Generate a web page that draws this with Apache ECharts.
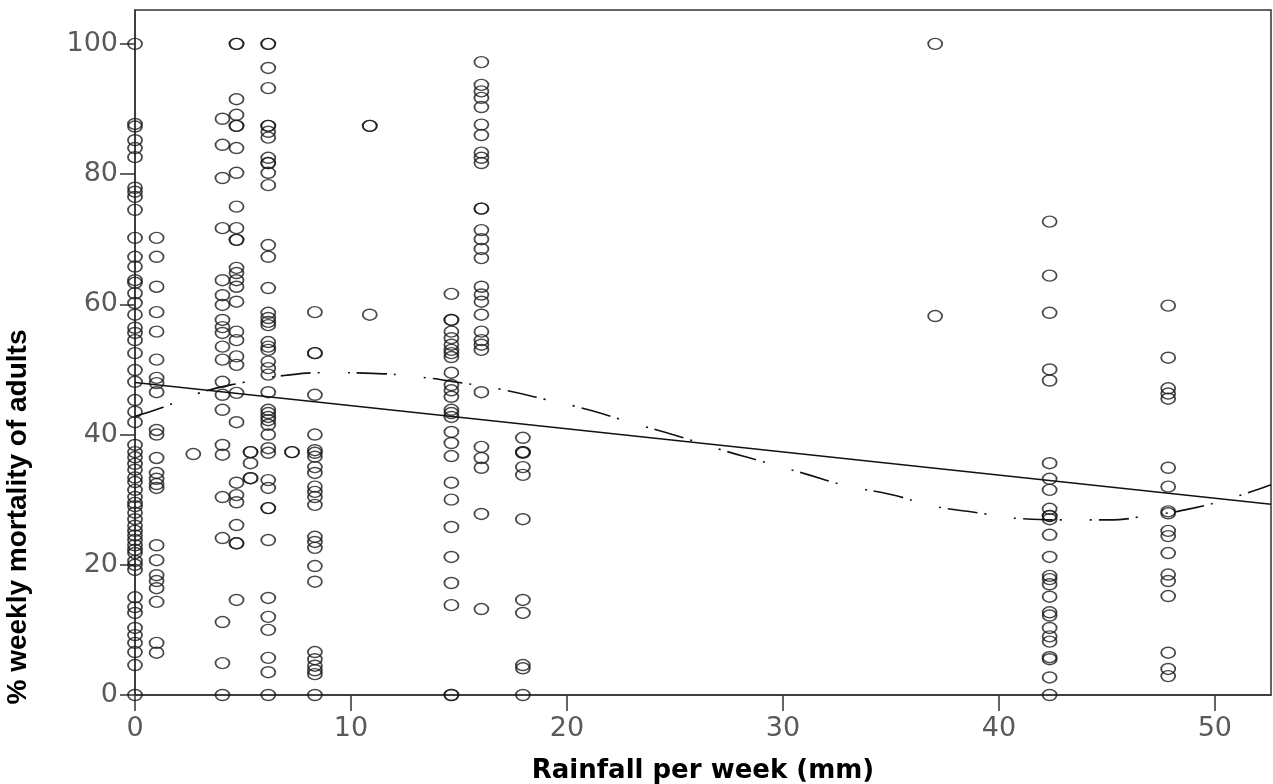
<!DOCTYPE html>
<html>
<head>
<meta charset="utf-8">
<script src="https://cdn.jsdelivr.net/npm/echarts@6/dist/echarts.min.js"></script>
<style>
html,body{margin:0;padding:0;background:#fff;}
#chart{width:1273px;height:784px;}
</style>
</head>
<body>
<div id="chart"></div>
<script>
// Rainfall columns (mm per week)
const rainfall = [0, 1.0, 2.7, 4.05, 4.7, 5.35, 6.17, 7.27, 8.33, 10.87, 14.65, 16.04, 17.96, 37.05, 42.35, 47.84];
// % weekly mortality of adults for each rainfall column
const mortality = [
  [100, 87.7, 87.3, 85.2, 84.0, 82.6, 77.9, 77.3, 76.5, 74.5, 70.2, 67.3, 65.8, 63.7, 63.3, 61.7, 60.2, 58.4, 56.4, 55.6, 54.5, 52.5, 49.9, 48.1, 45.3, 43.5, 41.9, 38.4, 37.3, 36.5, 35.5, 34.6, 33.4, 32.7, 31.5, 30.4, 29.5, 29.0, 28.0, 27.0, 26.0, 25.2, 24.5, 23.8, 23.0, 22.3, 21.8, 20.6, 20.0, 19.2, 15.0, 13.5, 12.6, 10.3, 9.2, 8.0, 6.6, 4.6, 0],
  [70.2, 67.3, 62.7, 58.8, 55.8, 51.5, 48.7, 47.9, 46.5, 40.7, 40.0, 36.4, 34.1, 33.2, 32.4, 31.8, 23.0, 20.7, 18.4, 17.5, 16.4, 14.3, 8.0, 6.5],
  [37.0],
  [88.5, 84.5, 79.4, 71.7, 63.7, 61.4, 59.9, 57.6, 56.5, 55.6, 53.5, 51.5, 48.1, 46.1, 43.8, 38.4, 36.9, 30.4, 24.1, 11.2, 4.9, 0],
  [100, 100, 91.5, 89.1, 87.4, 87.4, 84.0, 80.2, 75.0, 71.7, 69.9, 69.9, 65.6, 64.8, 63.7, 62.7, 60.4, 55.8, 54.5, 52.0, 50.7, 46.4, 41.9, 32.6, 30.7, 29.6, 26.1, 23.3, 23.3, 14.6],
  [37.3, 37.3, 35.6, 33.3, 33.3],
  [100, 100, 96.3, 93.2, 87.4, 87.4, 86.5, 85.6, 82.5, 81.7, 81.7, 80.2, 78.3, 69.1, 67.3, 62.5, 58.7, 57.9, 57.3, 56.8, 54.2, 53.5, 53.0, 51.2, 50.2, 49.2, 46.5, 43.8, 43.3, 42.7, 42.2, 41.5, 40.0, 37.9, 37.2, 33.0, 31.8, 28.7, 28.7, 23.8, 14.9, 12.0, 10.0, 5.7, 3.5, 0],
  [37.3, 37.3],
  [58.8, 52.5, 52.5, 46.1, 40.0, 37.6, 37.2, 36.6, 35.0, 34.1, 32.0, 31.2, 30.4, 29.2, 24.3, 23.5, 22.6, 19.8, 17.4, 6.6, 5.5, 4.5, 3.8, 3.2, 0],
  [87.4, 87.4, 58.4],
  [61.6, 57.6, 57.6, 55.8, 54.8, 53.8, 53.0, 52.5, 51.9, 49.5, 47.6, 46.8, 45.8, 43.8, 43.3, 42.7, 40.4, 38.7, 36.7, 32.6, 30.0, 25.8, 21.2, 17.2, 13.8, 0, 0],
  [97.2, 93.7, 92.7, 91.7, 90.3, 87.6, 86.0, 83.3, 82.5, 81.7, 74.7, 74.7, 71.4, 70.0, 68.5, 67.1, 62.7, 61.5, 60.4, 58.4, 55.8, 54.5, 53.8, 53.0, 46.5, 38.1, 36.4, 34.9, 27.8, 13.2],
  [39.5, 37.3, 37.3, 37.2, 35.0, 33.8, 27.0, 14.6, 12.6, 4.6, 4.1, 0],
  [100, 58.2],
  [72.7, 64.4, 58.7, 50.0, 48.3, 35.6, 33.2, 31.5, 28.6, 27.5, 27.5, 27.0, 24.6, 21.2, 18.3, 17.8, 17.0, 15.1, 12.7, 12.2, 10.3, 9.0, 8.2, 5.8, 5.5, 2.7, 0],
  [59.8, 51.8, 47.1, 46.3, 45.5, 34.9, 32.0, 28.2, 27.9, 25.2, 24.4, 21.8, 18.5, 17.5, 15.2, 6.5, 4.0, 2.9]
];
// Linear fit line (end points)
const linearX = [0, 52.6];
const linearY = [48.0, 29.3];
// Cubic fit curve
const cubicX = [0, 1.3, 3, 5, 7, 9, 11, 13, 15, 17, 19, 21, 23, 25, 27, 29, 31, 33, 35, 37, 39, 41, 43, 45, 47, 49, 51, 52.6];
const cubicY = [42.8, 44.2, 46.4, 48.0, 49.1, 49.5, 49.4, 48.9, 48.0, 46.9, 45.4, 43.8, 41.8, 39.9, 37.8, 35.9, 34.0, 32.1, 30.8, 29.0, 28.0, 27.1, 26.9, 26.9, 27.6, 28.7, 30.5, 32.3];
// Tick labels
const xTicks = [0, 10, 20, 30, 40, 50];
const yTicks = [0, 20, 40, 60, 80, 100];

const scatterData = [];
rainfall.forEach((r, i) => mortality[i].forEach(m => scatterData.push([r, m])));
const linData = linearX.map((x, i) => [x, linearY[i]]);
const cubData = cubicX.map((x, i) => [x, cubicY[i]]);

const labelFont = {fontFamily: "'DejaVu Sans', sans-serif", fontSize: 27, color: '#5a5a5a'};
const chart = echarts.init(document.getElementById('chart'), null, {renderer: 'canvas'});
chart.setOption({
  animation: false,
  backgroundColor: '#fff',
  grid: {left: 135, right: 2, top: 10, bottom: 89, show: true, borderColor: '#333', borderWidth: 1.5, backgroundColor: 'transparent', outerBoundsMode: 'none', containLabel: false},
  xAxis: {
    type: 'value', min: 0, max: 52.6, interval: 10,
    name: 'Rainfall per week (mm)', nameLocation: 'middle', nameGap: 63,
    nameTextStyle: {fontFamily: "'DejaVu Sans', sans-serif", fontWeight: 'bold', fontSize: 26, color: '#000'},
    axisLine: {show: true, onZero: false, lineStyle: {color: '#333', width: 1.5}},
    axisTick: {show: true, length: 16, lineStyle: {color: '#333', width: 1.5}, customValues: xTicks},
    axisLabel: Object.assign({margin: 20, customValues: xTicks, formatter: v => String(v)}, labelFont),
    splitLine: {show: false}
  },
  yAxis: {
    type: 'value', min: 0, max: 105.2, interval: 20,
    axisLine: {show: true, onZero: false, lineStyle: {color: '#333', width: 1.5}},
    axisTick: {show: true, length: 15, lineStyle: {color: '#333', width: 1.5}, customValues: yTicks},
    axisLabel: Object.assign({margin: 17, customValues: yTicks, formatter: v => String(v)}, labelFont),
    splitLine: {show: false}
  },
  graphic: [{
    type: 'text', x: 18, y: 517, rotation: Math.PI / 2,
    style: {text: '% weekly mortality of adults', fontFamily: "'Liberation Sans', Arial, sans-serif", fontWeight: 'bold', fontSize: 28, fill: '#000', align: 'center', verticalAlign: 'middle'}
  }],
  series: [
    {
      type: 'scatter', data: scatterData, symbol: 'circle', symbolSize: [14, 11],
      itemStyle: {color: 'rgba(0,0,0,0)', borderColor: '#1a1a1a', borderWidth: 1.6},
      z: 3, clip: true
    },
    {
      type: 'line', data: linData, showSymbol: false, symbol: 'none',
      lineStyle: {color: '#111', width: 1.6, type: 'solid'}, z: 4
    },
    {
      type: 'line', data: cubData, showSymbol: false, symbol: 'none', smooth: true,
      lineStyle: {color: '#111', width: 1.6, type: [30, 7, 2, 28, 2, 7]}, z: 4
    }
  ]
});
</script>
</body>
</html>
